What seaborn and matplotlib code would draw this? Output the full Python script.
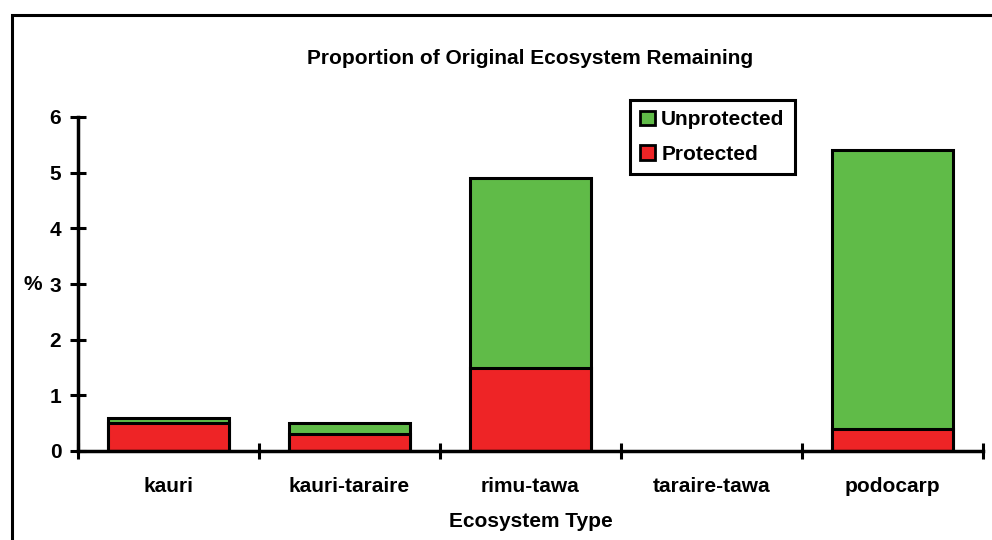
import matplotlib
matplotlib.use("Agg")
import matplotlib.pyplot as plt
import seaborn as sns
import pandas as pd
from matplotlib.patches import Rectangle, Patch

# Percent of original extent remaining, by ecosystem type
ecosystems = ["kauri", "kauri-taraire", "rimu-tawa", "taraire-tawa", "podocarp"]
protected = [0.5, 0.3, 1.5, 0.0, 0.4]
unprotected = [0.1, 0.2, 3.4, 0.0, 5.0]
y_ticks = [0, 1, 2, 3, 4, 5, 6]

GREEN = "#60BB48"
RED = "#EE2426"
FS = 15

sns.set_style("white")
plt.rcParams["font.family"] = ["Liberation Sans", "DejaVu Sans"]
plt.rcParams["font.weight"] = "bold"
for key in ("text.color", "axes.labelcolor", "xtick.color", "ytick.color",
            "axes.edgecolor"):
    plt.rcParams[key] = "black"

df = pd.DataFrame({
    "Ecosystem": ecosystems,
    "Protected": protected,
    "Unprotected": unprotected,
})
df["Total"] = df["Protected"] + df["Unprotected"]

fig = plt.figure(figsize=(9.92, 5.40), dpi=100)
ax = fig.add_axes([78 / 992, 1 - 451 / 540, (983 - 78) / 992, (451 - 117) / 540])

# stacked bars: full height in green, protected share drawn over it in red
sns.barplot(data=df, x="Ecosystem", y="Total", color=GREEN, width=0.67,
            edgecolor="black", linewidth=2.2, saturation=1, ax=ax)
sns.barplot(data=df, x="Ecosystem", y="Protected", color=RED, width=0.67,
            edgecolor="black", linewidth=2.2, saturation=1, ax=ax)

# hide zero-height bars so they leave no outline
for p in ax.patches:
    if p.get_height() == 0:
        p.set_visible(False)

ax.set_xlim(-0.5, 4.5)
ax.set_ylim(0, 6)
ax.set_yticks(y_ticks)
ax.set_yticklabels([str(v) for v in y_ticks], fontsize=FS, fontweight="bold")

ax.set_xticks(range(len(ecosystems)))
ax.set_xticklabels(ecosystems, fontsize=FS, fontweight="bold")
ax.tick_params(axis="x", which="major", bottom=True, length=0, pad=19)
ax.set_xticks([i - 0.5 for i in range(len(ecosystems) + 1)], minor=True)
ax.tick_params(axis="x", which="minor", bottom=True, direction="inout",
               length=12, width=2.2, color="black")
ax.tick_params(axis="y", which="major", left=True, direction="inout",
               length=12, width=2.2, pad=6, color="black")

for side in ("top", "right"):
    ax.spines[side].set_visible(False)
for side in ("left", "bottom"):
    ax.spines[side].set_linewidth(2.5)
    ax.spines[side].set_color("black")
ax.spines["bottom"].set_zorder(5)

ax.set_xlabel("Ecosystem Type", fontsize=FS, fontweight="bold", labelpad=11)
ax.set_ylabel("%", fontsize=FS, fontweight="bold", rotation=0,
              va="center", ha="center")
ax.yaxis.set_label_coords(-0.0495, 0.5)

fig.text(530 / 992, 1 - 58 / 540, "Proportion of Original Ecosystem Remaining",
         ha="center", va="center", fontsize=FS, fontweight="bold")

handles = [Patch(facecolor=GREEN, edgecolor="black", linewidth=2),
           Patch(facecolor=RED, edgecolor="black", linewidth=2)]
leg = fig.legend(handles, ["Unprotected", "Protected"],
                 loc="upper left", bbox_to_anchor=(630 / 992, 1 - 100 / 540),
                 frameon=True, fancybox=False, framealpha=1,
                 prop={"weight": "bold", "size": FS},
                 handlelength=0.7, handleheight=0.7, handletextpad=0.3,
                 borderpad=0.5, labelspacing=0.75, borderaxespad=0)
leg.get_frame().set_edgecolor("black")
leg.get_frame().set_linewidth(2.2)

# outer chart frame
fig.patches.append(Rectangle((11.5 / 992, -0.1), 1.2, 1 - 14.5 / 540 + 0.1,
                             transform=fig.transFigure, fill=False,
                             edgecolor="black", linewidth=2.2, zorder=10))

fig.savefig("out.png", dpi=100)
